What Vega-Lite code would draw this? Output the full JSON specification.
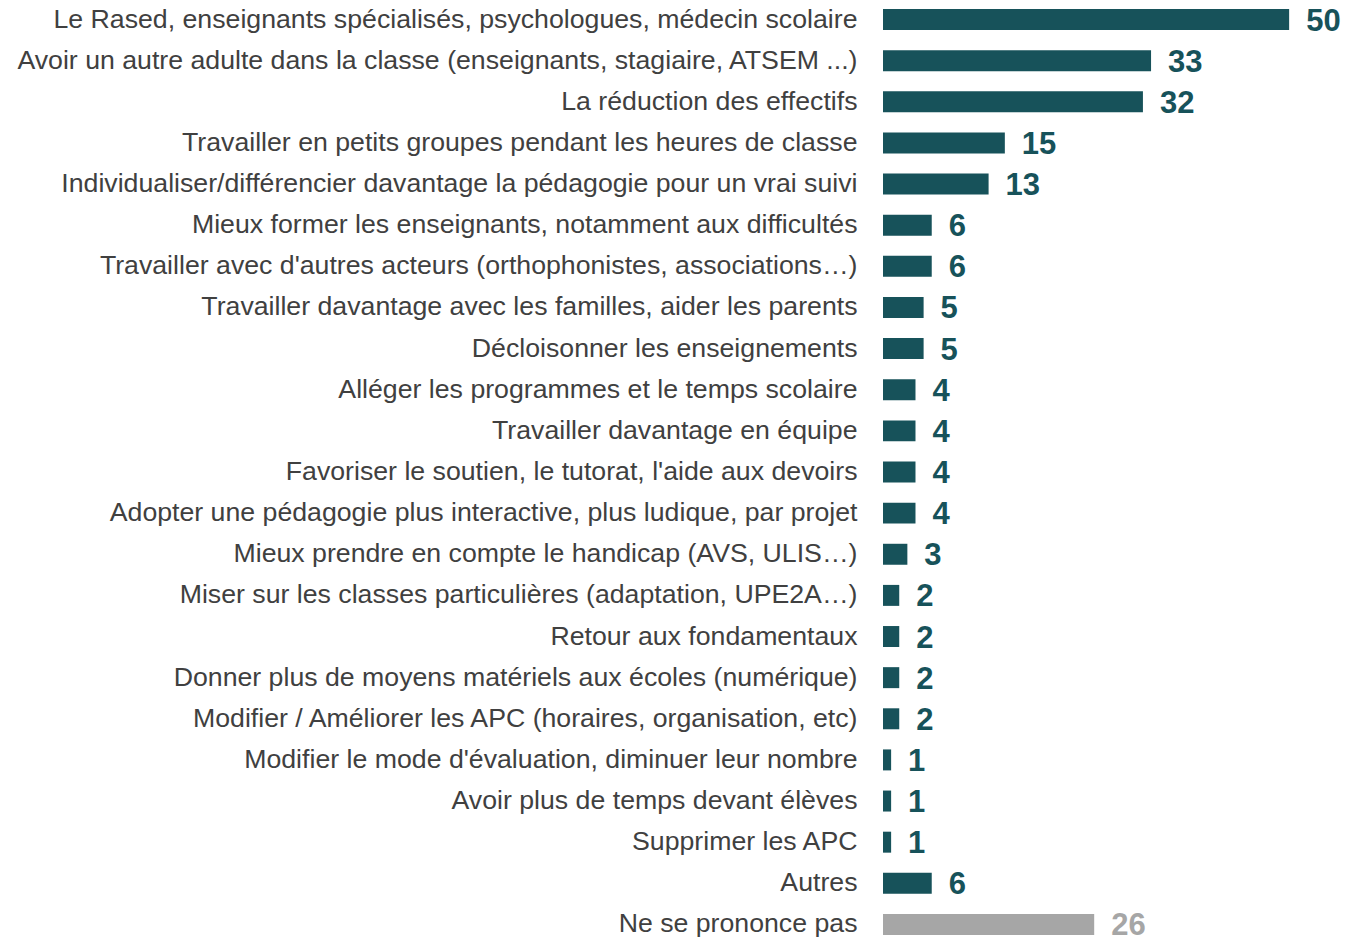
{
  "$schema": "https://vega.github.io/schema/vega-lite/v6.json",
  "autosize": "none",
  "padding": {"left": 883, "top": -1, "right": 0, "bottom": 0},
  "width": 463,
  "height": 946,
  "background": "white",
  "config": {"view": {"stroke": null}},
  "data": {"values": [
    {"item": "Le Rased, enseignants spécialisés, psychologues, médecin scolaire", "n": 50, "kind": "réponse"},
    {"item": "Avoir un autre adulte dans la classe (enseignants, stagiaire, ATSEM ...)", "n": 33, "kind": "réponse"},
    {"item": "La réduction des effectifs", "n": 32, "kind": "réponse"},
    {"item": "Travailler en petits groupes pendant les heures de classe", "n": 15, "kind": "réponse"},
    {"item": "Individualiser/différencier davantage la pédagogie pour un vrai suivi", "n": 13, "kind": "réponse"},
    {"item": "Mieux former les enseignants, notamment aux difficultés", "n": 6, "kind": "réponse"},
    {"item": "Travailler avec d'autres acteurs (orthophonistes, associations…)", "n": 6, "kind": "réponse"},
    {"item": "Travailler davantage avec les familles, aider les parents", "n": 5, "kind": "réponse"},
    {"item": "Décloisonner les enseignements", "n": 5, "kind": "réponse"},
    {"item": "Alléger les programmes et le temps scolaire", "n": 4, "kind": "réponse"},
    {"item": "Travailler davantage en équipe", "n": 4, "kind": "réponse"},
    {"item": "Favoriser le soutien, le tutorat, l'aide aux devoirs\u00a0", "n": 4, "kind": "réponse"},
    {"item": "Adopter une pédagogie plus interactive, plus ludique, par projet", "n": 4, "kind": "réponse"},
    {"item": "Mieux prendre en compte le handicap (AVS, ULIS…)", "n": 3, "kind": "réponse"},
    {"item": "Miser sur les classes particulières (adaptation, UPE2A…)", "n": 2, "kind": "réponse"},
    {"item": "Retour aux fondamentaux", "n": 2, "kind": "réponse"},
    {"item": "Donner plus de moyens matériels aux écoles (numérique)", "n": 2, "kind": "réponse"},
    {"item": "Modifier / Améliorer les APC (horaires, organisation, etc)", "n": 2, "kind": "réponse"},
    {"item": "Modifier le mode d'évaluation, diminuer leur nombre", "n": 1, "kind": "réponse"},
    {"item": "Avoir plus de temps devant élèves", "n": 1, "kind": "réponse"},
    {"item": "Supprimer les APC", "n": 1, "kind": "réponse"},
    {"item": "Autres", "n": 6, "kind": "réponse"},
    {"item": "Ne se prononce pas", "n": 26, "kind": "nsp"}
  ]},
  "encoding": {
    "y": {
      "field": "item", "type": "nominal", "sort": null,
      "scale": {"paddingInner": 0.49, "paddingOuter": 0.245},
      "axis": {
        "title": null, "ticks": false, "domain": false, "labelPadding": 26,
        "labelLimit": 0, "labelFont": "Liberation Sans", "labelFontSize": 26.7,
        "labelColor": "#404040"
      }
    },
    "x": {
      "field": "n", "type": "quantitative",
      "scale": {"domain": [0, 57], "nice": false},
      "axis": null
    },
    "color": {
      "field": "kind", "type": "nominal",
      "scale": {"domain": ["réponse", "nsp"], "range": ["#17525a", "#a6a6a6"]},
      "legend": null
    }
  },
  "layer": [
    {"mark": {"type": "bar"}},
    {"mark": {"type": "text", "align": "left", "baseline": "middle", "dx": 17, "dy": 2, "font": "Liberation Sans", "fontSize": 31, "fontWeight": "bold"},
     "encoding": {"text": {"field": "n", "type": "quantitative"}}}
  ]
}
